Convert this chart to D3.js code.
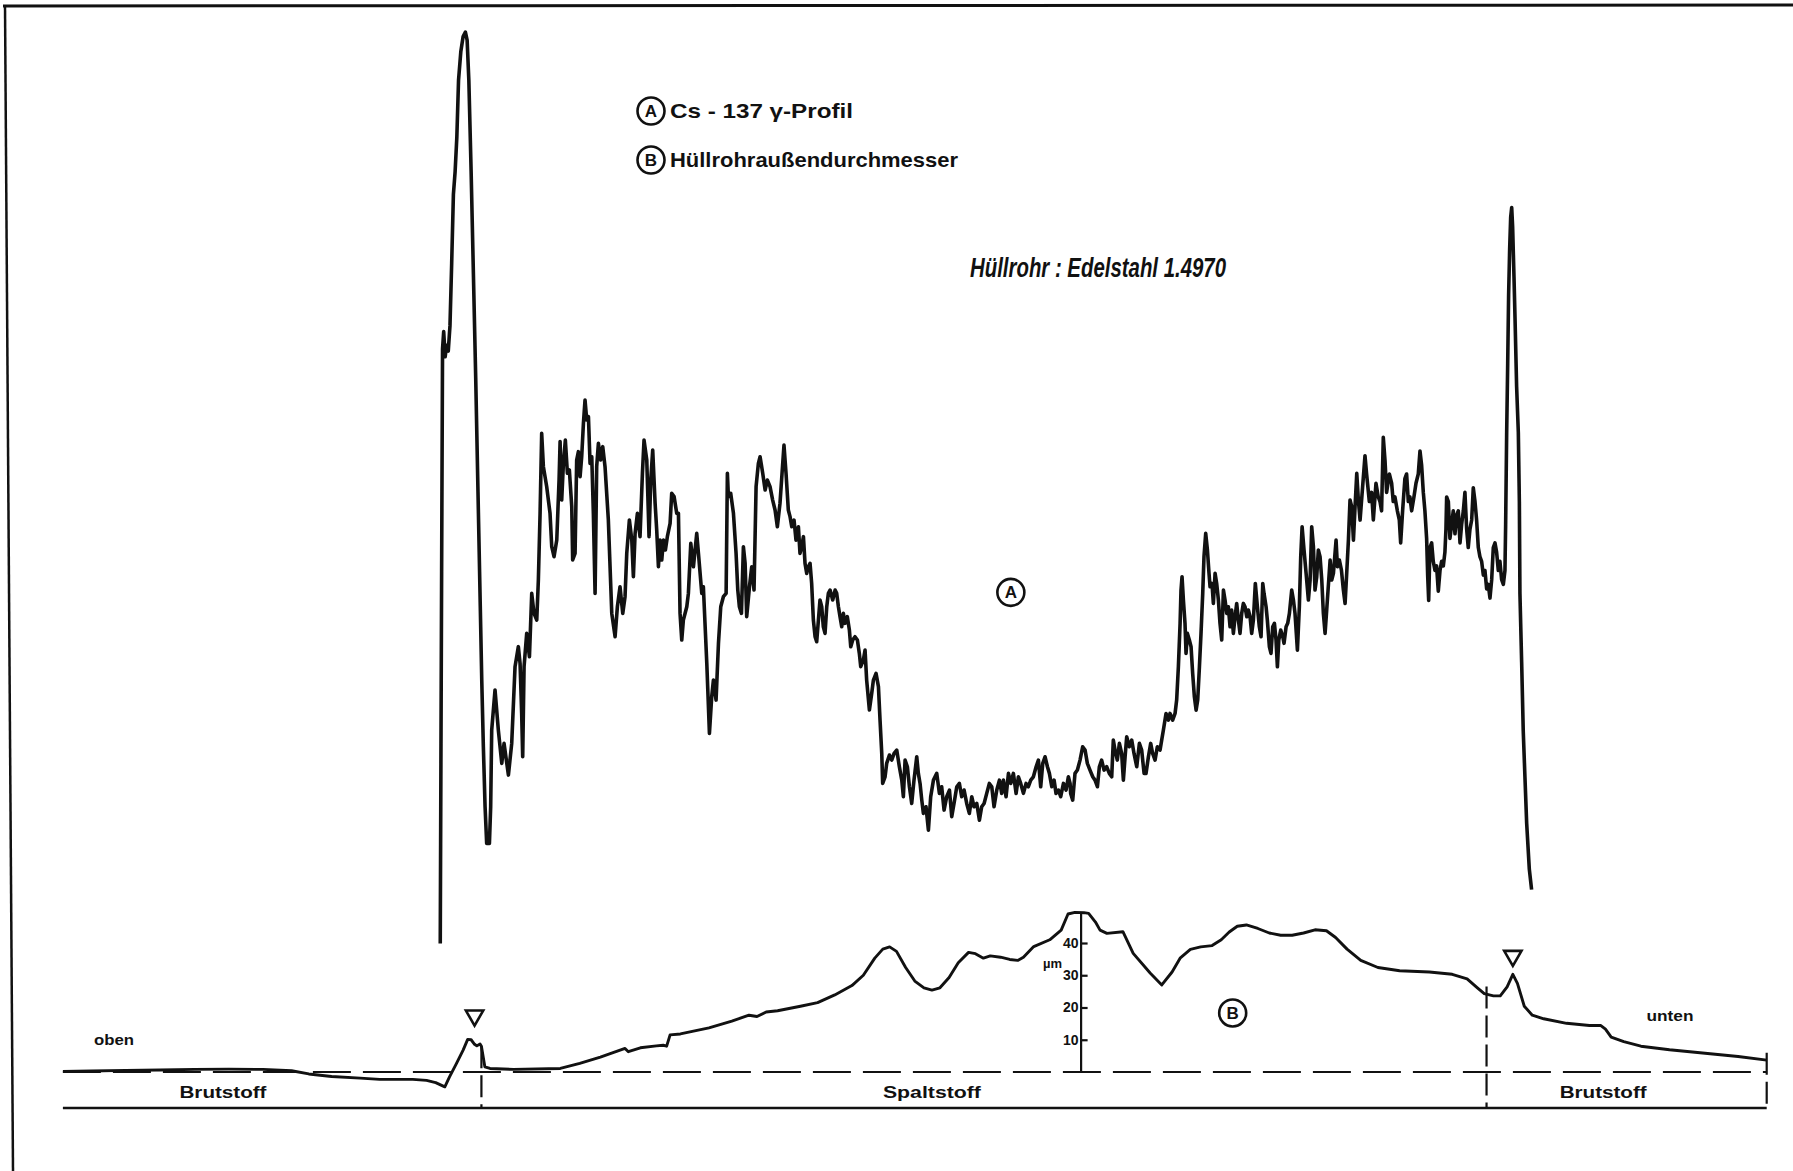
<!DOCTYPE html>
<html>
<head>
<meta charset="utf-8">
<script src="https://cdn.jsdelivr.net/npm/d3@7"></script>
<style>
  html, body { margin: 0; padding: 0; background: #fff; }
  svg { display: block; }
  text { font-family: "Liberation Sans", Arial, Helvetica, sans-serif; fill: #111; }
</style>
</head>
<body>
<svg id="chart" width="1793" height="1171"></svg>
<script>
// Axial position along the pin in mm (0 = upper end of the scan), paired with
// the Cs-137 gamma count rate (relative units).
const gammaProfile = [
  [330,25],[331.2,350],[332,545],[333,560],[334.3,538],[335.5,548],[337,543],[338.5,565],[340,620],[341.5,680],[343,700],[344.5,730],[346,780],[348,805],[350,818],[352,822],[353.5,815],[355,780],[357,700],[359,610],[361,520],[363,420],[365,320],
  [366.3,255],[367.7,197],[369.2,144.5],[370.6,112.5],[373.0,112.5],[374.1,144.5],[375.0,211.6],[377.9,246.6],[380.8,211.6],[383.8,182.4],[385.8,199.9],[389.6,172.2],[392.5,199.9],[395.4,267.0],[398.3,284.5],[399.8,269.9],[401.2,226.2],[402.1,188.3],[403.3,267.0],[405.6,296.1],[408.0,275.7],[410.0,331.1],[412.0,313.6],[414.4,307.8],[415.8,342.8],[417.3,401.1],[418.7,471.1],[420.2,441.9],[423.1,424.4],[426.0,401.1],[427.5,371.9],[429.5,363.2],[431.9,377.8],[433.9,430.2],[434.8,463.8],[436.2,412.7],[437.7,444.8],[439.4,465.2],[441.2,436.1],[442.9,439.0],[445.0,406.9],[445.8,360.3],[447.9,366.1],[449.3,447.7],[450.8,455.0],[452.3,433.2],[453.7,450.6],[455.2,479.8],[456.6,500.2],[458.1,482.7],[459.6,485.6],[461.0,444.8],[462.5,450.6],[463.9,401.1],[465.4,331.1],[466.8,441.9],[468.3,462.3],[470.3,447.7],[472.1,459.4],[474.1,441.9],[477.0,395.3],[480.0,313.6],[482.9,293.2],[484.9,319.4],[487.2,336.9],[489.6,313.6],[491.6,328.2],[493.1,366.1],[495.4,395.3],[497.5,377.8],[498.9,345.7],[500.4,383.6],[502.4,401.1],[504.7,380.7],[506.8,436.1],[508.2,465.2],[510.6,447.7],[512.6,380.7],[514.1,430.2],[515.8,456.5],[517.9,409.8],[519.3,386.5],[520.8,354.4],[522.2,377.8],[523.7,360.3],[525.2,377.8],[526.9,369.0],[528.6,380.7],[531.0,392.3],[532.4,418.6],[534.5,415.7],[536.8,401.1],[538.3,401.1],[539.7,313.6],[541.2,290.3],[542.6,307.8],[545.6,319.4],[547.0,331.1],[549.1,374.8],[551.4,354.4],[554.3,383.6],[555.8,366.1],[558.7,331.1],[560.1,336.9],[563.1,269.9],[565.4,208.7],[567.4,240.7],[568.9,255.3],[571.2,237.8],[573.3,287.4],[575.3,319.4],[577.6,328.2],[580.0,331.1],[581.1,436.1],[582.0,415.7],[584.0,418.6],[586.4,401.1],[588.7,366.1],[590.2,334.0],[591.6,319.4],[593.4,313.6],[595.1,371.9],[596.6,357.4],[598.0,310.7],[600.4,336.9],[602.4,354.4],[604.4,334.0],[606.2,424.4],[608.2,444.8],[609.7,450.6],[612.0,436.1],[614.1,421.5],[616.1,430.2],
  [618.4,424.4],[620.7,412.7],[622.8,404.0],[624.8,389.4],[627.1,409.8],[628.9,436.1],[630.6,460.8],[632.4,436.1],[634.4,404.0],[635.9,398.2],[637.4,389.4],[639.4,395.2],[641.1,377.7],[643.2,389.4],[644.6,366.1],[646.1,371.9],[647.6,380.7],[649.0,357.3],[650.5,348.6],[651.9,354.4],[653.4,357.3],[654.8,339.8],[656.3,307.8],[657.8,293.2],[659.2,288.8],[660.7,307.8],[662.1,325.3],[663.6,319.4],[665.0,301.9],[666.5,296.1],[668.0,319.4],[669.4,331.1],[670.9,334.0],[673.2,325.3],[675.3,334.0],[676.7,331.1],[678.2,319.4],[679.6,310.7],[681.1,301.9],[682.5,313.6],[684.0,304.9],[686.0,310.7],[687.8,299.0],[689.0,284.4],[690.7,290.3],[692.7,293.2],[694.8,290.3],[696.5,278.6],[697.7,267.0],[700.0,272.8],[701.5,281.5],[702.9,255.3],[705.3,229.1],[707.3,243.6],[708.8,255.3],[711.1,261.1],[713.2,249.5],[714.6,220.3],[716.1,191.2],[716.9,164.9],[719.0,170.7],[720.4,182.4],[722.8,189.7],[724.8,185.3],[726.9,191.2],[729.2,194.1],[731.5,179.5],[733.6,167.8],[735.0,153.3],[736.5,185.3],[738.5,179.5],[740.3,162.0],[742.3,147.4],[744.3,167.8],[746.7,188.2],[748.1,173.7],[749.6,164.9],[751.1,150.3],[752.5,138.7],[754.8,144.5],[756.9,124.1],[758.9,153.3],[761.3,167.8],[764.2,173.7],[766.5,156.2],[768.5,162.0],[770.6,141.6],[772.9,153.3],[775.3,159.1],[777.3,135.8],[779.3,147.4],[781.7,162.0],[784.0,164.9],[786.0,153.3],[788.1,159.1],[790.4,147.4],[792.7,138.7],[794.8,153.3],[796.8,144.5],[799.2,147.4],[801.5,132.8],[803.5,144.5],[805.6,147.4],[807.9,156.2],[810.2,164.9],[812.3,162.0],[814.3,144.5],[816.7,159.1],[819.0,167.8],[821.0,156.2],[822.5,167.8],[824.8,153.3],[826.9,173.7],[828.9,164.9],[831.2,173.7],[833.6,156.2],[835.6,170.7],[837.6,164.9],[840.0,156.2],[842.3,164.9],[844.3,162.0],[846.4,167.8],[848.7,170.7],[851.1,179.5],[853.1,185.3],[855.1,162.0],[856.9,182.4],[858.9,188.2],[861.0,179.5],[862.7,173.7],[864.8,162.0],[866.8,167.8],[868.5,156.2],[870.6,159.1],[872.6,153.3],[875.0,164.9],[877.3,159.1],[879.3,170.7],[880.8,164.9],
  [881.3,156.2],[883.1,150.3],[885.1,173.7],[887.2,176.6],[889.5,185.3],[891.8,197.0],[893.9,194.1],[895.9,182.4],[898.2,176.6],[900.6,170.7],[902.6,167.8],[904.7,162.0],[906.4,179.5],[908.4,185.3],[910.5,176.6],[912.8,179.5],[915.1,173.7],[917.2,170.7],[918.6,202.8],[920.1,194.1],[922.1,185.3],[923.9,199.9],[925.9,191.1],[927.4,167.8],[928.9,188.2],[930.3,205.7],[932.6,197.0],[934.7,202.8],[936.7,191.1],[939.1,179.5],[941.4,199.9],[943.4,194.1],[945.5,173.7],[947.2,173.7],[949.3,188.2],[951.3,199.9],[953.0,191.1],[955.1,185.3],[957.1,197.0],[959.5,194.1],[960.9,202.8],[962.4,211.6],[964.7,226.1],[966.8,220.3],[968.2,226.1],[970.5,220.3],[972.6,226.1],[974.0,237.8],[975.5,266.9],[977.0,304.9],[977.8,334.0],[978.7,345.7],[979.9,325.3],[981.3,304.9],[982.2,278.6],[983.4,296.1],[985.1,290.3],[986.6,284.4],[988.0,261.1],[989.5,240.7],[991.0,229.0],[992.4,237.8],[993.9,266.9],[995.3,296.1],[996.8,331.1],[997.9,363.2],[999.4,383.6],[1000.9,369.0],[1002.3,348.6],[1003.2,336.9],[1004.9,339.8],[1006.1,322.3],[1007.6,348.6],[1009.0,339.8],[1010.5,325.3],[1011.9,304.9],[1013.4,290.3],[1014.9,334.0],[1016.3,325.3],[1017.8,313.6],[1019.2,319.4],[1020.7,301.9],[1022.1,316.5],[1023.6,296.1],[1025.1,310.7],[1026.5,322.3],[1028.0,307.8],[1029.4,296.1],[1030.9,313.6],[1032.3,322.3],[1033.8,319.4],[1035.3,310.7],[1036.7,316.5],[1038.2,310.7],[1039.6,296.1],[1041.1,307.8],[1042.8,339.8],[1044.6,319.4],[1046.3,301.9],[1047.8,293.2],[1049.3,339.8],[1050.4,331.1],[1052.2,319.4],[1053.3,307.8],[1055.1,284.4],[1056.5,278.6],[1058.0,301.9],[1059.5,304.9],[1060.9,290.3],[1062.1,266.9],[1063.3,290.3],[1065.0,299.0],[1066.8,293.2],[1067.9,287.4],[1069.7,301.9],[1071.1,304.9],[1072.6,313.6],[1074.6,334.0],[1076.1,325.3],[1077.5,313.6],[1079.6,281.5],[1081.3,319.4],[1082.5,363.2],[1083.7,389.4],[1085.4,369.0],[1087.2,348.6],[1089.2,325.3],[1090.7,342.8],[1092.1,389.4],[1093.6,371.9],[1095.0,334.0],[1096.5,345.7],[1097.9,369.0],[1099.4,363.2],[1100.9,342.8],[1102.3,313.6],[1103.8,296.1],[1105.2,316.5],[1107.0,342.8],[1108.2,360.2],[1109.6,342.8],[1111.1,348.6],[1113.4,377.7],[1114.6,354.4],[1116.3,360.2],[1118.1,351.5],[1119.8,334.0],[1121.3,322.3],[1122.7,348.6],[1124.2,377.7],[1125.6,412.7],[1127.1,406.9],[1128.6,377.7],[1130.0,406.9],[1131.5,436.0],[1132.9,412.7],[1134.4,395.2],
  [1138.7,451.5],[1140.1,435.5],[1142.5,411.4],[1144.5,419.4],[1146.0,395.3],[1148.3,427.4],[1150.3,415.4],[1151.8,411.4],[1153.2,403.3],[1154.7,467.6],[1156.2,447.5],[1157.6,419.4],[1160.0,435.5],[1162.0,427.4],[1163.4,411.4],[1164.9,415.4],[1167.0,403.3],[1168.7,395.3],[1169.9,375.2],[1171.6,403.3],[1173.6,431.5],[1175.1,435.5],[1176.6,411.4],[1178.0,415.4],[1179.5,403.3],[1181.5,415.4],[1183.3,427.4],[1185.3,435.5],[1186.8,455.6],[1188.2,443.5],[1189.7,419.4],[1191.1,403.3],[1192.6,379.2],[1193.5,347.1],[1194.4,325.0],[1195.5,371.2],[1197.0,375.2],[1198.4,359.1],[1199.9,351.1],[1201.3,355.1],[1202.8,333.0],[1204.3,351.1],[1205.7,359.1],[1207.2,355.1],[1208.6,367.2],[1209.5,387.3],[1210.1,415.4],[1211.6,411.4],[1213.0,379.2],[1214.5,391.3],[1215.9,403.3],[1217.4,383.2],[1218.8,399.3],[1220.3,403.3],[1221.8,375.2],[1223.2,391.3],[1224.7,403.3],[1226.1,419.4],[1227.6,387.3],[1229.0,371.2],[1230.5,387.3],[1232.0,395.3],[1233.4,423.4],[1234.9,411.4],[1236.3,395.3],[1237.8,371.2],[1239.2,363.2],[1240.7,359.1],[1242.2,347.1],[1243.6,351.1],[1245.1,335.0],[1246.5,339.0],[1248.0,327.0],[1249.5,343.1],[1250.9,371.2],[1252.4,375.2],[1253.8,367.2],[1255.3,351.1],[1256.7,359.1],[1258.2,343.1],[1259.7,339.0],[1261.1,351.1],
  [1261.7,391],[1262.6,471.6],[1263.5,532],[1264.3,592],[1265.2,632],[1266.1,660],[1267.0,668.5],[1267.8,652],[1269.0,608],[1269.9,572],[1271.3,512],[1272.8,471.6],[1273.7,411],[1274.2,331],[1275.7,271],[1277.1,210.5],[1278.6,170],[1280.1,130],[1282.4,90],[1284.4,72]
];

// Axial position in mm paired with the change of the cladding outer diameter in µm.
const claddingDiameter = [
  [0,0.2],[25,0.3],[55,0.5],[85,0.6],[115,0.8],[145,0.9],[175,0.8],[200,0.4],[215,-0.6],[235,-1.4],[260,-1.9],[277,-2.3],[306,-2.3],[318,-2.6],[326,-3.3],[334,-4.6],[338,-1.6],[344,2.5],[350,6.8],[354,10.1],[357,10.0],[360,8.6],[362,8.1],[364.8,8.7],[366,8.0],[369,1.6],[373.5,1.1],[394,0.8],[435,1.1],[452,2.7],[470,4.6],[491.6,7.3],[494.5,6.3],[505,7.5],[519,8.1],[525,8.3],[528,8.0],[531,11.5],[540,11.8],[565,13.7],[585,15.8],[600,17.6],[607,17.2],[615,18.6],[625,19.0],[635,19.7],[645,20.4],[660,21.5],[675,23.9],[690,26.8],[700,30.0],[710,35.3],[717,38.1],[723,38.8],[729,37.4],[737,32.4],[745,28.2],[753,26.1],[760,25.4],[767,26.1],[775,29.3],[783,33.9],[792,37.1],[798,36.7],[805,35.3],[811,36.0],[820,35.6],[828,34.9],[835,34.6],[840,35.6],[849,38.9],[863,41.0],[873,44.0],[879,49.0],[885,49.5],[893,49.4],[897,49.2],[903,46.5],[907,44.0],[913,43.0],[927,43.5],[936,36.8],[951,30.6],[961,27.0],[970,31.0],[977,35.3],[986,38.0],[995,38.8],[1005,39.2],[1013,41.0],[1020,43.4],[1027,45.2],[1035,45.6],[1045,44.5],[1055,43.1],[1065,42.4],[1075,42.4],[1085,43.1],[1095,44.1],[1105,43.8],[1113,41.7],[1123,38.1],[1135,34.6],[1150,32.4],[1169,31.4],[1195,31.0],[1215,30.3],[1228,28.9],[1237,26.1],[1243,24.3],[1251,23.6],[1257,23.6],[1263,26.4],[1268,30.3],[1272,27.5],[1278,20.4],[1285,17.6],[1295,16.5],[1315,15.1],[1335,14.4],[1345,14.4],[1349,13.3],[1354,10.8],[1365,9.4],[1380,8.0],[1405,6.9],[1425,6.2],[1445,5.5],[1465,4.8],[1490,3.7]
];

// Tick values of the diameter axis (µm)
const diameterTicks = [10, 20, 30, 40];

// Pin zones along the scan (mm)
const scanLength = 1490;
const fuelStart = 366;
const fuelEnd = 1245;
const zoneLabels = ["Brutstoff", "Spaltstoff", "Brutstoff"];
const zoneLabelPos = [140, 760, 1347];

// Fuel column end markers: position (mm) and height (µm)
const markerPos = [360, 1268];
const markerLevel = [17.5, 36];

const W = 1793, H = 1171;
const svg = d3.select("#chart");

const x = d3.scaleLinear().domain([0, scanLength]).range([62.9, 1766.7]);
const yA = d3.scaleLinear().domain([0, 850]).range([972, 0]);
const yB = d3.scaleLinear().domain([0, 10]).range([1072, 1039.75]);
const bandBottom = 1108;

// Sheet frame
svg.append("line").attr("x1", 3).attr("y1", 6).attr("x2", W).attr("y2", 5)
  .attr("stroke", "#111").attr("stroke-width", 3);
svg.append("line").attr("x1", 5).attr("y1", 5).attr("x2", 13).attr("y2", H)
  .attr("stroke", "#111").attr("stroke-width", 2.5);

// Zone band: dashed zero line and solid lower edge
svg.append("line")
  .attr("x1", x(0)).attr("x2", x(scanLength))
  .attr("y1", yB(0)).attr("y2", yB(0))
  .attr("stroke", "#111").attr("stroke-width", 2.2).attr("stroke-dasharray", "38,12");
svg.append("line")
  .attr("x1", x(0)).attr("x2", x(scanLength))
  .attr("y1", bandBottom).attr("y2", bandBottom)
  .attr("stroke", "#111").attr("stroke-width", 2.4);

// Zone boundaries
const boundaries = [
  { pos: fuelStart, top: 8 },
  { pos: fuelEnd, top: 26.5 },
  { pos: scanLength, top: 6 }
];
svg.selectAll(".boundary").data(boundaries).enter().append("line")
  .attr("class", "boundary")
  .attr("x1", d => x(d.pos)).attr("x2", d => x(d.pos))
  .attr("y1", d => yB(d.top)).attr("y2", bandBottom)
  .attr("stroke", "#111").attr("stroke-width", 2.2).attr("stroke-dasharray", "22,7");

// Zone names
svg.selectAll(".zone").data(zoneLabels).enter().append("text")
  .attr("class", "zone")
  .attr("x", (d, i) => x(zoneLabelPos[i]))
  .attr("y", 1098)
  .attr("text-anchor", "middle")
  .attr("font-size", 16).attr("font-weight", "bold")
  .attr("textLength", (d, i) => i === 1 ? 98 : 87)
  .attr("lengthAdjust", "spacingAndGlyphs")
  .text(d => d);

// Ends of the pin
svg.append("text").attr("x", 114).attr("y", 1045).attr("text-anchor", "middle")
  .attr("font-size", 15).attr("font-weight", "bold")
  .attr("textLength", 40).attr("lengthAdjust", "spacingAndGlyphs").text("oben");
svg.append("text").attr("x", 1670).attr("y", 1021).attr("text-anchor", "middle")
  .attr("font-size", 15).attr("font-weight", "bold")
  .attr("textLength", 47).attr("lengthAdjust", "spacingAndGlyphs").text("unten");

// Diameter axis
const axisX = x(890);
const yBaxis = yB.copy().domain([0, 49.3]).range([yB(0), yB(49.3)]);
const axisG = svg.append("g").attr("transform", `translate(${axisX},0)`)
  .call(d3.axisRight(yBaxis).tickValues(diameterTicks).tickSizeInner(7).tickSizeOuter(0).tickFormat(d3.format("d")));
axisG.select(".domain").attr("stroke", "#111").attr("stroke-width", 2.2);
axisG.selectAll(".tick line").attr("stroke", "#111").attr("stroke-width", 2.2);
axisG.selectAll(".tick text")
  .attr("x", -2).attr("text-anchor", "end")
  .attr("font-size", 14).attr("font-weight", "bold")
  .attr("font-family", "Liberation Sans, Arial, sans-serif").attr("fill", "#111");
svg.append("text").attr("x", axisX - 28).attr("y", 968).attr("text-anchor", "middle")
  .attr("font-size", 13).attr("font-weight", "bold").text("µm");

// Curve B: cladding outer diameter
const lineB = d3.line().x(d => x(d[0])).y(d => yB(d[1]));
svg.append("path").datum(claddingDiameter)
  .attr("d", lineB).attr("fill", "none")
  .attr("stroke", "#111").attr("stroke-width", 2.9).attr("stroke-linejoin", "round");

// Curve A: Cs-137 gamma profile
const lineA = d3.line().x(d => x(d[0])).y(d => yA(d[1]));
svg.append("path").datum(gammaProfile)
  .attr("d", lineA).attr("fill", "none")
  .attr("stroke", "#111").attr("stroke-width", 3.6).attr("stroke-linejoin", "round");

// Fuel end markers (open triangles)
const tri = d3.symbol().type(d3.symbolTriangle).size(130);
svg.selectAll(".marker").data(markerPos).enter().append("path")
  .attr("class", "marker")
  .attr("d", tri)
  .attr("transform", (d, i) => `translate(${x(d)},${yB(markerLevel[i])}) rotate(180)`)
  .attr("fill", "none").attr("stroke", "#111").attr("stroke-width", 2.6);

// Circled curve identifiers
function circled(cx, cy, letter) {
  const g = svg.append("g").attr("transform", `translate(${cx},${cy})`);
  g.append("circle").attr("r", 13.5).attr("fill", "none").attr("stroke", "#111").attr("stroke-width", 2.6);
  g.append("text").attr("y", 6).attr("text-anchor", "middle")
    .attr("font-size", 17).attr("font-weight", "bold").text(letter);
}
circled(x(829), yA(332), "A");
circled(x(1023), yB(18.3), "B");

// Legend
circled(651, 111, "A");
circled(651, 160, "B");
svg.append("text").attr("x", 670).attr("y", 118)
  .attr("font-size", 21).attr("font-weight", "bold")
  .attr("textLength", 183).attr("lengthAdjust", "spacingAndGlyphs")
  .text("Cs - 137 γ-Profil");
svg.append("text").attr("x", 670).attr("y", 167)
  .attr("font-size", 21).attr("font-weight", "bold")
  .attr("textLength", 288).attr("lengthAdjust", "spacingAndGlyphs")
  .text("Hüllrohraußendurchmesser");

// Cladding material note
svg.append("text").attr("x", 970).attr("y", 277)
  .attr("font-size", 28).attr("font-style", "italic").attr("font-weight", "bold")
  .attr("font-family", "Liberation Sans Narrow, DejaVu Sans Condensed, Liberation Sans, sans-serif")
  .attr("textLength", 256).attr("lengthAdjust", "spacingAndGlyphs")
  .text("Hüllrohr : Edelstahl 1.4970");
</script>
</body>
</html>
